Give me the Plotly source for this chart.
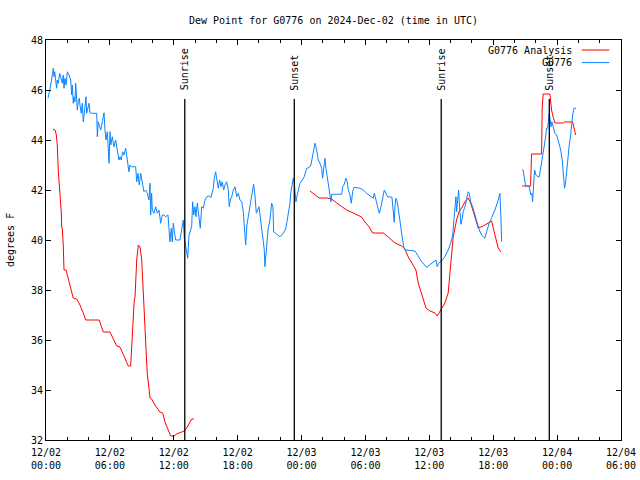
import pandas as pd
import plotly.graph_objects as go

START = pd.Timestamp("2024-12-02 00:00")

# ---- Data (hours after 2024-12-02 00:00 UTC, dew point in degrees F) ----
analysis_hours = [
    0.66, 0.85, 0.97, 1.06, 1.15, 1.2, 1.29, 1.31, 1.44, 1.47, 1.53, 1.62, 1.69, 1.88,
    2.09, 2.25, 2.56, 2.88, 3.19, 3.5, 3.73, 5.0, 5.38, 6.01, 6.64, 6.95, 7.73, 7.95,
    8.05, 8.2, 8.29, 8.36, 8.52, 8.67, 8.83, 8.99, 9.14, 9.23, 9.39, 9.51, 9.67, 9.77,
    9.92, 10.23, 10.7, 10.96, 11.17, 11.48, 11.71, 12.02, 12.27, 12.74, 12.99, 13.21,
    13.68, 13.9,
    19.0,
    24.79, 25.26, 25.66, 26.36, 26.83, 27.3, 27.77, 28.23, 28.85, 29.64, 29.95, 30.36,
    30.67, 31.67, 32.14, 32.77, 33.4, 33.71, 34.02, 34.43, 34.74, 34.96, 35.28, 35.68,
    36.06, 36.53, 36.74, 37.15, 37.46, 37.77, 37.93, 38.09, 38.24, 38.56, 38.81, 39.03,
    39.34, 39.65, 39.88, 40.28, 40.59, 41.06, 41.53, 41.85, 42.16, 42.47, 42.72,
    43.7,
    44.72, 45.51, 45.6, 46.54, 46.6, 46.69, 47.32, 47.48, 47.63, 47.79, 48.57, 48.67,
    49.46, 49.58, 49.74,
]
analysis_values = [
    44.44, 44.4, 44.2, 43.8, 42.8, 42.52, 41.8, 41.72, 41.08, 40.52, 40.48, 39.8, 38.8, 38.8,
    38.48, 38.2, 37.68, 37.64, 37.4, 37.08, 36.8, 36.8, 36.32, 36.32, 35.76, 35.72, 34.96, 34.96,
    35.84, 37.04, 37.6, 37.72, 39.2, 39.8, 39.72, 39.2, 37.88, 36.92, 36.12, 34.64, 34.08, 33.68,
    33.64, 33.4, 33.12, 33.08, 32.72, 32.4, 32.16, 32.16, 32.24, 32.32, 32.36, 32.48,
    32.84, 32.84,
    None,
    41.96, 41.8, 41.68, 41.68, 41.64, 41.48, 41.32, 41.2, 41.08, 40.92, 40.72, 40.52,
    40.28, 40.28, 40.12, 39.88, 39.76, 39.64, 39.32, 39.04, 38.8, 38.28, 37.8, 37.28,
    37.16, 37.08, 36.96, 37.28, 37.48, 37.88, 38.6, 39.48, 40.12, 40.8, 41.16, 41.28,
    41.52, 41.68, 41.48, 40.92, 40.48, 40.56, 40.68, 40.76, 40.2, 39.68, 39.52,
    None,
    42.16, 42.16, 43.44, 43.44, 45.28, 45.84, 45.84, 45.2, 44.92, 44.68, 44.68, 44.72,
    44.72, 44.52, 44.2,
]

obs_hours = [
    0.19, 0.28, 0.44, 0.5, 0.59, 0.69, 0.75, 0.82, 0.91, 1.0, 1.06, 1.15, 1.29, 1.38, 1.53,
    1.62, 1.69, 1.78, 1.88, 2.0, 2.16, 2.32, 2.41, 2.47, 2.56, 2.63, 2.72, 2.79, 2.88, 2.94,
    3.03, 3.13, 3.19, 3.31, 3.41, 3.5, 3.63, 3.76, 3.82, 3.94, 4.04, 4.13, 4.25, 4.76, 4.82,
    4.91, 5.0, 5.14, 5.29, 5.45, 5.54, 5.63, 5.76, 5.85, 5.92, 6.01, 6.08, 6.23, 6.38, 6.54,
    6.69, 6.85, 6.95, 7.07, 7.2, 7.32, 7.48, 7.63, 7.79, 7.89, 8.01, 8.42, 8.52, 8.64, 8.76,
    8.89, 9.04, 9.2, 9.36, 9.51, 9.67, 9.77, 9.83, 9.92, 9.98, 10.14, 10.3, 10.45, 10.61,
    10.77, 10.92, 11.08, 11.24, 11.46, 11.64, 11.77, 11.86, 11.95, 12.08, 12.18, 12.58,
    12.7, 12.89, 12.99, 13.12, 13.21, 13.31, 13.43, 13.55, 13.68, 13.77, 13.87, 13.99,
    14.08, 14.21, 14.37, 14.49, 14.62, 14.77, 14.93, 15.09, 15.31, 15.49, 15.71, 15.8,
    15.93, 16.06, 16.18, 16.31, 16.43, 16.55, 16.69, 16.81, 16.97, 17.12, 17.21, 17.31,
    17.44, 17.59, 17.75, 17.91, 18.06, 18.22, 18.38, 18.53, 18.69, 18.75, 18.87, 19.0,
    19.13, 19.25, 19.41, 19.5, 19.62, 19.75, 19.88, 20.0, 20.12, 20.25, 20.38, 20.5,
    20.56, 20.66, 20.75, 20.87, 21.03, 21.19, 21.31, 21.38, 21.66, 21.97, 22.28, 22.51,
    22.63, 22.75, 22.91, 23.0, 23.13, 23.22, 23.31, 23.38, 23.47, 23.63, 23.85, 24.07,
    24.25, 24.48, 24.69, 24.88, 25.0, 25.14, 25.26, 25.42, 25.57, 25.73, 25.89, 25.98,
    26.08, 26.2, 26.29, 26.45, 26.57, 26.67, 26.76, 26.83, 27.77, 27.86, 27.98, 28.17,
    28.29, 28.39, 28.54, 28.67, 28.8, 28.92, 29.48, 29.79, 30.11, 30.58, 30.73, 30.83,
    30.99, 31.15, 31.3, 31.43, 31.62, 31.77, 31.92, 32.08, 32.49, 32.61, 32.7, 32.77,
    32.86, 32.99, 33.12, 33.24, 33.36, 33.49, 33.62, 33.71, 34.65, 34.96, 35.28, 35.75,
    36.22, 36.62, 36.74, 36.87, 37.15, 37.46, 37.77, 38.0, 38.19, 38.31, 38.4, 38.5,
    38.56, 38.66, 38.75, 38.87, 38.97, 39.09, 39.18, 39.34, 39.5, 39.65, 39.75, 39.88,
    40.07, 40.28, 40.5, 40.69, 40.91, 41.22, 41.38, 41.62, 41.85, 42.16, 42.47, 42.63,
    42.72, 42.79,
    43.7,
    44.72, 44.81, 44.88, 44.98, 45.04, 45.35, 45.45, 45.54, 45.63, 45.7, 45.82, 45.89,
    46.01, 46.17, 46.32, 46.45, 46.6, 46.69, 46.79, 46.88, 47.01, 47.11, 47.16, 47.26,
    47.35, 47.42, 47.51, 47.63, 47.79, 47.95, 48.05, 48.14, 48.26, 48.36, 48.48, 48.57,
    48.64, 48.7, 48.8, 48.89, 49.01, 49.14, 49.27, 49.36, 49.46, 49.58, 49.77,
]
obs_values = [
    45.67, 45.87, 46.07, 46.33, 46.6, 46.87, 46.53, 46.73, 46.4, 46.07, 46.4, 46.27, 46.67, 46.47, 46.27,
    46.6, 46.07, 46.47, 46.2, 46.73, 46.6, 46.4, 45.8, 46.2, 45.47, 45.73, 45.53, 46.27, 45.73, 45.2,
    45.53, 45.67, 45.4, 45.07, 45.47, 44.73, 45.2, 45.73, 45.07, 45.27, 45.47, 45.09, 45.07, 45.07, 44.13,
    44.73, 44.6, 44.4, 44.73, 45.09, 44.4, 44.0, 44.33, 43.6, 43.07, 44.33, 43.8, 44.13, 43.73, 44.0,
    43.67, 43.2, 43.33, 43.2, 43.53, 43.4, 43.67, 43.2, 42.73, 43.0, 42.93, 42.93, 42.33, 42.67, 42.2,
    42.67, 42.27, 41.93, 42.0, 41.87, 41.6, 42.27, 41.0, 41.87, 41.2, 41.07, 41.33, 41.07, 41.2,
    40.67, 41.0, 41.0, 40.93, 41.0, 39.93, 40.47, 39.93, 40.67, 40.27, 40.0, 40.0,
    40.27, 40.8, 40.07, 39.73, 39.47, 39.27, 40.2, 40.4, 40.53, 41.53, 41.0, 41.33,
    40.93, 41.47, 41.0, 40.47, 41.33, 41.27, 41.6, 41.73, 41.77, 41.69, 42.07, 42.47,
    42.73, 42.33, 42.07, 42.4, 42.13, 42.33, 42.0, 42.2, 42.33, 42.0, 41.33, 41.6,
    41.73, 42.0, 42.13, 41.73, 41.87, 41.6, 41.53, 41.13, 40.27, 39.8, 40.6, 41.0,
    41.33, 41.6, 42.0, 42.23, 41.8, 41.07, 41.2, 41.33, 40.93, 40.47, 40.2, 39.6,
    38.93, 39.4, 39.93, 40.47, 40.8, 41.47, 41.33, 40.33, 40.24, 40.13, 40.27, 40.44,
    40.73, 41.07, 41.47, 41.93, 42.27, 42.47, 42.33, 41.87, 41.53, 41.87, 42.27, 42.4,
    42.53, 42.87, 42.89, 43.0, 43.27, 43.53, 43.87, 43.6, 43.2, 43.07, 42.87, 42.47,
    42.8, 43.27, 42.87, 42.47, 42.2, 41.8, 41.53, 41.83, 41.83, 42.13, 42.2, 42.47,
    42.33, 42.0, 41.8, 41.47, 41.93, 42.11, 42.07, 42.0, 41.87, 41.73, 41.67, 41.87,
    41.6, 41.27, 41.07, 41.27, 41.73, 42.0, 41.87, 41.73, 41.71, 41.13, 40.71, 41.33,
    41.67, 41.53, 41.07, 40.67, 40.33, 40.0, 39.69, 39.6, 39.56, 39.33, 39.13, 38.91,
    39.07, 39.2, 38.93, 39.07, 39.16, 39.33, 39.6, 39.87, 40.2, 40.8, 41.4, 41.73,
    41.13, 41.67, 42.0, 41.13, 40.63, 40.87, 41.13, 41.33, 41.6, 41.93, 41.87, 41.53,
    41.33, 41.0, 40.67, 40.4, 40.2, 40.07, 40.33, 40.67, 40.89, 41.2, 41.6, 41.87,
    40.93, 39.93,
    None,
    42.8, 42.8, 42.6, 42.4, 42.16, 42.16, 42.0, 41.8, 41.87, 41.53, 42.4, 42.8,
    42.6, 42.53, 42.53, 42.87, 43.2, 43.33, 43.73, 44.0, 44.47, 44.47, 44.67, 45.07,
    44.8, 44.53, 44.73, 44.47, 44.27, 44.2, 44.07, 43.87, 43.73, 43.53, 43.2, 42.73,
    42.4, 42.07, 42.33, 42.8, 43.33, 43.8, 44.2, 44.67, 45.0, 45.27, 45.27,
]

event_times = ["2024-12-02 13:02", "2024-12-02 23:19", "2024-12-03 13:07", "2024-12-03 23:16"]
event_labels = ["Sunrise", "Sunset", "Sunrise", "Sunset"]

series_names = ["G0776 Analysis", "G0776"]
series_colors = ["#ff0000", "#0a84ff"]

title_text = "Dew Point for G0776 on 2024-Dec-02 (time in UTC)"
y_title = "degrees F"

# ---- Build figure ----
MONO = "DejaVu Sans Mono"

t_analysis = START + pd.to_timedelta(analysis_hours, unit="h")
t_obs = START + pd.to_timedelta(obs_hours, unit="h")

fig = go.Figure()
fig.add_trace(go.Scatter(x=t_analysis, y=analysis_values, mode="lines",
                         name=series_names[0], line=dict(color=series_colors[0], width=1),
                         connectgaps=False, showlegend=False, hoverinfo="skip"))
fig.add_trace(go.Scatter(x=t_obs, y=obs_values, mode="lines",
                         name=series_names[1], line=dict(color=series_colors[1], width=1),
                         connectgaps=False, showlegend=False, hoverinfo="skip"))

line_top = 45.64
label_bottom = 45.9
for t, lab in zip(event_times, event_labels):
    fig.add_shape(type="line", xref="x", yref="y", x0=t, x1=t, y0=32, y1=line_top,
                  line=dict(color="black", width=1.3), layer="above")
    fig.add_annotation(x=t, y=label_bottom, xref="x", yref="y", text=lab, textangle=-90,
                       showarrow=False, xanchor="center", yanchor="bottom",
                       font=dict(family=MONO, size=10, color="black"))

# Manual legend (gnuplot style: text right, sample line after)
legend_rows = [0.975, 0.9435]
for name, color, yy in zip(series_names, series_colors, legend_rows):
    fig.add_annotation(x=0.9183, y=yy, xref="paper", yref="paper", text=name,
                       showarrow=False, xanchor="right", yanchor="middle",
                       font=dict(family=MONO, size=10, color="black"))
    fig.add_shape(type="line", xref="paper", yref="paper", x0=0.9317, x1=0.9797,
                  y0=yy, y1=yy, line=dict(color=color, width=1))

fig.add_annotation(x=-0.0626, y=0.5, xref="paper", yref="paper", text=y_title,
                   textangle=-90, showarrow=False, xanchor="center", yanchor="middle",
                   font=dict(family=MONO, size=10, color="black"))

fig.update_layout(
    width=640, height=480,
    margin=dict(l=46, r=19, t=40, b=40, autoexpand=False),
    paper_bgcolor="white", plot_bgcolor="white",
    title=dict(text=title_text, x=0.5, xref="paper", y=1 - 20 / 480, yref="container",
               xanchor="center", yanchor="middle",
               font=dict(family=MONO, size=10, color="black")),
    font=dict(family=MONO, size=10, color="black"),
    showlegend=False,
)
fig.update_xaxes(
    type="date", automargin=False,
    range=["2024-12-02 00:00", "2024-12-04 06:00"],
    tickformat="%m/%d<br>%H:%M", dtick=6 * 3600 * 1000, tick0="2024-12-02 00:00",
    ticks="inside", ticklen=5, tickcolor="black", tickwidth=1, ticklabelstandoff=3,
    minor=dict(dtick=2 * 3600 * 1000, ticks="inside", ticklen=3, tickcolor="black",
               tickwidth=1, showgrid=False),
    showline=True, linecolor="black", linewidth=1, mirror="ticks",
    showgrid=False, zeroline=False,
    tickfont=dict(family=MONO, size=10, color="black"),
)
fig.update_yaxes(
    range=[32, 48], dtick=2, tick0=32, automargin=False,
    ticks="inside", ticklen=5, tickcolor="black", tickwidth=1,
    showline=True, linecolor="black", linewidth=1, mirror="ticks",
    showgrid=False, zeroline=False,
    tickfont=dict(family=MONO, size=10, color="black"),
)

# remove the default page margin so the figure sits at the window's top-left corner
fig.write_html("out.html", config={"displayModeBar": False},
               post_script="document.body.style.margin='0';document.body.style.overflow='hidden';")
